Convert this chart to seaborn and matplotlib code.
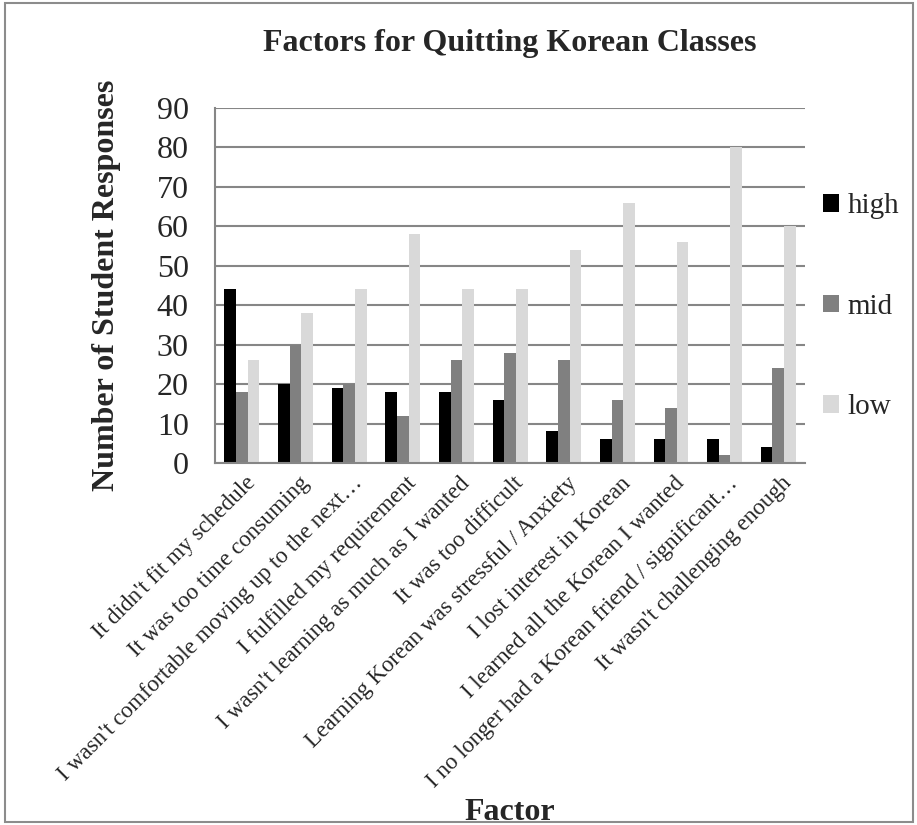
import pandas as pd
import matplotlib.pyplot as plt
import matplotlib
import matplotlib.transforms as mtransforms
import seaborn as sns
from matplotlib.patches import Rectangle, Patch

factors = [
    "It didn't fit my schedule",
    "It was too time consuming",
    "I wasn't comfortable moving up to the next\u2026",
    "I fulfilled my requirement",
    "I wasn't learning as much as I wanted",
    "It was too difficult",
    "Learning Korean was stressful / Anxiety",
    "I lost interest in Korean",
    "I learned all the Korean I wanted",
    "I no longer had a Korean friend / significant\u2026",
    "It wasn't challenging enough",
]
high = [44, 20, 19, 18, 18, 16, 8, 6, 6, 6, 4]
mid = [18, 30, 20, 12, 26, 28, 26, 16, 14, 2, 24]
low = [26, 38, 44, 58, 44, 44, 54, 66, 56, 80, 60]
levels = ["high", "mid", "low"]
colors = ["#000000", "#808080", "#d9d9d9"]

df = pd.DataFrame({"Factor": factors, "high": high, "mid": mid, "low": low})
df = df.melt(id_vars="Factor", var_name="level", value_name="count")

sns.set_style("white")
matplotlib.rcParams["font.family"] = ["Liberation Serif", "DejaVu Serif"]

fig = plt.figure(figsize=(9.17, 8.25), dpi=100)
ax = fig.add_axes([0.2345, 0.4388, 0.6435, 0.4303])

sns.barplot(data=df, x="Factor", y="count", hue="level", hue_order=levels,
            palette=colors, width=0.65, gap=0, saturation=1, edgecolor="none",
            ax=ax, legend=False)

grid_c = "#868686"
ax.set_ylim(0, 90)
ax.set_yticks(range(0, 91, 10))
ax.yaxis.grid(True, color=grid_c, lw=1.5)
ax.set_axisbelow(True)
ax.spines[["right", "top"]].set_visible(False)
for s in ["left", "bottom"]:
    ax.spines[s].set_color(grid_c)
    ax.spines[s].set_linewidth(1.5)
ax.set_xlim(-0.5, len(factors) - 0.5)

# ticks between categories like Excel
ax.set_xticks([i + 0.5 for i in range(-1, len(factors))], minor=True)
ax.tick_params(axis="x", which="minor", length=6, color=grid_c, width=1.5, direction="out")
ax.tick_params(axis="x", which="major", length=0, pad=7)
ax.tick_params(axis="y", length=6, color=grid_c, width=1.5, direction="out", labelsize=23, pad=13)
ax.set_xticks(range(len(factors)))
ax.set_xticklabels(factors, rotation=45, ha="right", rotation_mode="anchor", fontsize=16.7)
shift = mtransforms.ScaledTranslation(3 / 100, 0, fig.dpi_scale_trans)
for lbl in ax.get_xticklabels():
    lbl.set_transform(lbl.get_transform() + shift)

ax.set_ylabel("Number of Student Responses", fontsize=23, fontweight="bold")
ax.yaxis.set_label_coords(-0.16, 0.5)
ax.set_xlabel("Factor", fontsize=23, fontweight="bold")
ax.xaxis.set_label_coords(0.5, -0.943)
ax.set_title("Factors for Quitting Korean Classes", fontsize=23, fontweight="bold", pad=41)

handles = [Patch(facecolor=c, edgecolor="none") for c in colors]
ax.legend(handles, levels, loc="center left", bbox_to_anchor=(1.0, 0.44), frameon=False,
          fontsize=21, handlelength=0.55, handleheight=0.55, handletextpad=0.3,
          labelspacing=2.55, borderaxespad=0.2)

fig.patches.append(Rectangle((0.005, 0.004), 0.991, 0.992, transform=fig.transFigure,
                             fill=False, edgecolor="#8c8c8c", lw=1.5))

plt.savefig("out.png", dpi=100)
